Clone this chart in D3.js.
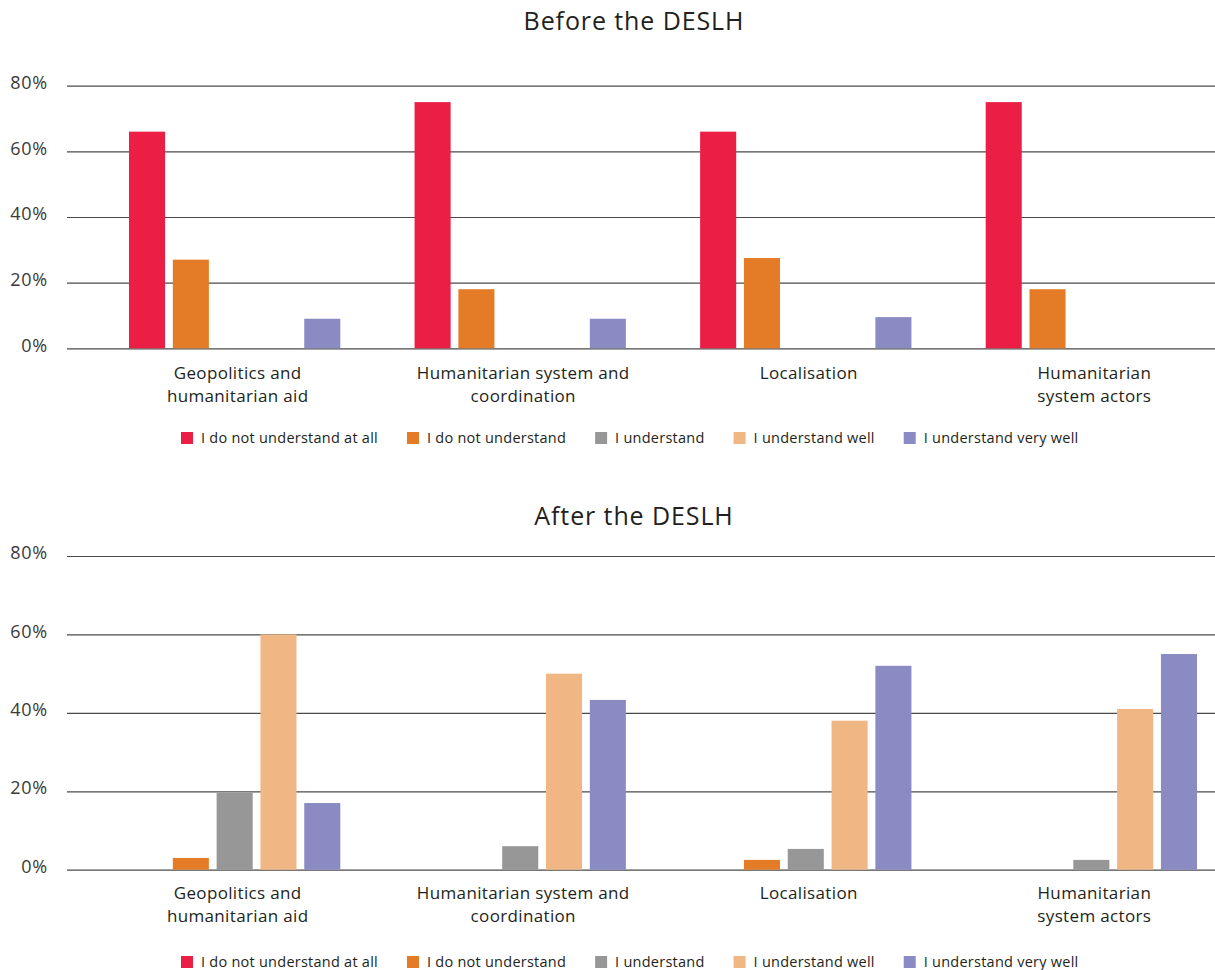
<!DOCTYPE html>
<html>
<head>
<meta charset="utf-8">
<script src="https://cdn.jsdelivr.net/npm/d3@7/dist/d3.min.js"></script>
<style>
  html, body { margin: 0; padding: 0; background: #fff; }
  svg { display: block; font-family: "Open Sans", Lato, sans-serif; }
</style>
</head>
<body>
<svg id="chart" width="1215" height="970"></svg>
<script>
// Topics surveyed (each label split over two lines)
const categories = [
  ["Geopolitics and", "humanitarian aid"],
  ["Humanitarian system and", "coordination"],
  ["Localisation"],
  ["Humanitarian", "system actors"]
];

// Self-assessed understanding levels
const levels = [
  "I do not understand at all",
  "I do not understand",
  "I understand",
  "I understand well",
  "I understand very well"
];
const levelColors = ["#EB1E45", "#E47B26", "#979797", "#F0B684", "#8B8BC3"];

// Share of respondents (%) per topic, one row per topic, one column per level
const beforeValues = [
  [66, 27, 0, 0, 9],
  [75, 18, 0, 0, 9],
  [66, 27.5, 0, 0, 9.5],
  [75, 18, 0, 0, 0]
];
const afterValues = [
  [0, 3, 19.6, 60, 17],
  [0, 0, 6, 50, 43.3],
  [0, 2.5, 5.3, 38, 52],
  [0, 0, 2.5, 41, 55]
];

const yTicks = [0, 20, 40, 60, 80];
const titles = ["Before the DESLH", "After the DESLH"];

const svg = d3.select("#chart");
const gridLeft = 67, gridRight = 1215;

const catKeys = categories.map(c => c.join(" "));
const x0 = d3.scaleBand().domain(catKeys).range([129, 1197]).paddingInner(0.26);
const x1 = d3.scaleBand().domain(levels).range([0, x0.bandwidth()]).paddingInner(0.177);
const color = d3.scaleOrdinal().domain(levels).range(levelColors);

function drawPanel(title, values, titleY, yBase, yTop, catY, legendY) {
  const g = svg.append("g");
  const y = d3.scaleLinear().domain([0, 80]).range([yBase, yTop]);

  g.append("text")
    .attr("x", 634).attr("y", titleY)
    .attr("text-anchor", "middle")
    .attr("font-size", 25).attr("letter-spacing", 0.9).attr("fill", "#231f20")
    .text(title);

  // gridlines and tick labels
  const axis = d3.axisLeft(y).tickValues(yTicks)
    .tickSize(-(gridRight - gridLeft)).tickPadding(19)
    .tickFormat(d => d + "%");
  const ax = g.append("g").attr("transform", `translate(${gridLeft},0)`).call(axis);
  ax.select(".domain").remove();
  ax.selectAll(".tick line").attr("stroke", "#4a4a4a").attr("stroke-width", 1.2);
  ax.selectAll(".tick text")
    .attr("font-size", 18).attr("letter-spacing", 0.8).attr("fill", "#3a3a3a")
    .attr("font-family", "'Open Sans', sans-serif")
    .attr("dy", "0.15em");

  // bars
  const groups = g.selectAll(".grp").data(values).join("g")
    .attr("transform", (d, i) => `translate(${x0(catKeys[i])},0)`);
  groups.selectAll("rect")
    .data(row => row.map((v, j) => ({ level: levels[j], v })).filter(d => d.v > 0))
    .join("rect")
    .attr("x", d => x1(d.level))
    .attr("width", x1.bandwidth())
    .attr("y", d => y(d.v))
    .attr("height", d => y(0) - y(d.v))
    .attr("fill", d => color(d.level));

  // category labels
  categories.forEach((lines, i) => {
    const cx = x0(catKeys[i]) + x0.bandwidth() / 2 + 3;
    const t = g.append("text")
      .attr("x", cx).attr("y", catY)
      .attr("text-anchor", "middle")
      .attr("font-size", 17).attr("letter-spacing", 0.35).attr("fill", "#231f20");
    lines.forEach((ln, k) => {
      t.append("tspan").attr("x", cx).attr("dy", k === 0 ? 0 : 23).text(ln);
    });
  });

  // legend
  const leg = g.append("g");
  let lx = 181;
  levels.forEach(lv => {
    const it = leg.append("g").attr("transform", `translate(${lx},${legendY})`);
    it.append("rect").attr("x", 0).attr("y", -6).attr("width", 12).attr("height", 12)
      .attr("fill", color(lv));
    const tx = it.append("text").attr("x", 20).attr("y", 0).attr("dy", "0.35em")
      .attr("font-size", 14.5).attr("letter-spacing", 0.25).attr("fill", "#231f20").text(lv);
    lx += 20 + tx.node().getComputedTextLength() + 29;
  });
}

drawPanel(titles[0], beforeValues, 30, 348.3, 85.7, 379, 438);
drawPanel(titles[1], afterValues, 525, 869.7, 556, 899, 962);
</script>
</body>
</html>
